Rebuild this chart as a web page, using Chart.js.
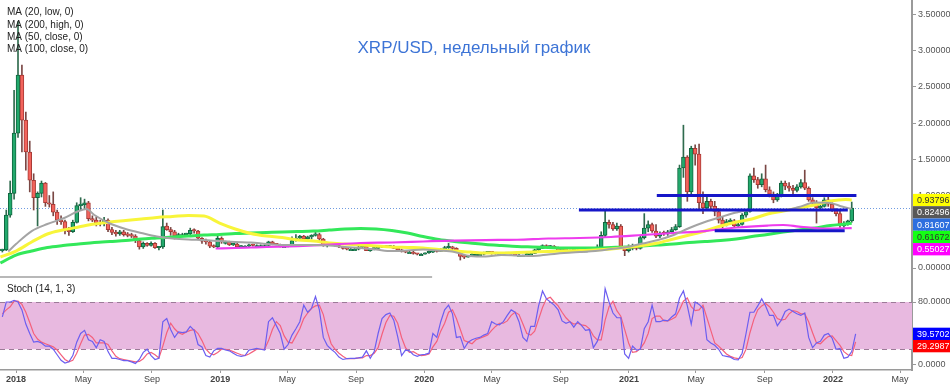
<!DOCTYPE html>
<html>
<head>
<meta charset="utf-8">
<script src="https://cdn.jsdelivr.net/npm/chart.js@4.4.0/dist/chart.umd.min.js"></script>
<style>
  html, body { margin: 0; padding: 0; background: #fff; }
  #wrap { position: relative; width: 950px; height: 386px; overflow: hidden; }
  #price { position: absolute; left: 0; top: 0; }
  #stoch { position: absolute; left: 0; top: 282px; }
</style>
</head>
<body>
<div id="wrap">
  <canvas id="price" width="950" height="282"></canvas>
  <canvas id="stoch" width="950" height="104"></canvas>
</div>
<script>
// XRP/USD weekly — candles + MAs, stochastic pane below
// week index 0 = week of 2018-01-01

// ── data ───────────────────────────────────────────
const CANDLE_START = -3.5;   // week of first candle
const STOCH_START = -3.5;

const opens = [
  0.24,0.25,0.73,1.03,1.86,2.66,2.04,1.60,1.21,0.97,1.03,1.17,0.90,0.88,0.77,0.66,0.64,0.52,0.50,0.63,
  0.86,0.87,0.90,0.68,0.66,0.62,0.61,0.66,0.53,0.49,0.47,0.50,0.46,0.45,0.44,0.38,0.29,0.34,0.31,0.34,
  0.28,0.29,0.58,0.53,0.50,0.44,0.46,0.46,0.47,0.52,0.51,0.41,0.37,0.36,0.30,0.29,0.41,0.36,0.36,0.32,
  0.33,0.29,0.30,0.30,0.32,0.31,0.31,0.31,0.31,0.36,0.33,0.32,0.30,0.30,0.31,0.38,0.41,0.44,0.40,0.43,
  0.45,0.46,0.40,0.32,0.33,0.32,0.31,0.29,0.27,0.26,0.26,0.26,0.29,0.30,0.24,0.26,0.27,0.29,0.30,0.29,
  0.30,0.27,0.25,0.23,0.22,0.22,0.20,0.19,0.19,0.21,0.22,0.24,0.23,0.26,0.28,0.29,0.27,0.23,0.16,0.15,
  0.17,0.19,0.19,0.19,0.21,0.22,0.21,0.20,0.20,0.20,0.21,0.19,0.18,0.18,0.18,0.20,0.20,0.25,0.27,0.31,
  0.29,0.30,0.28,0.24,0.25,0.24,0.24,0.25,0.25,0.24,0.24,0.25,0.26,0.29,0.45,0.63,0.60,0.54,0.58,0.28,
  0.24,0.27,0.29,0.27,0.42,0.55,0.60,0.51,0.44,0.48,0.47,0.50,0.53,0.57,1.38,1.53,1.05,1.65,1.57,0.90,
  0.83,0.92,0.85,0.78,0.66,0.60,0.64,0.65,0.58,0.60,0.73,0.78,1.27,1.22,1.15,1.23,1.08,1.02,0.94,1.00,
  1.17,1.13,1.10,1.07,1.12,1.18,1.10,0.94,0.90,0.83,0.85,0.94,0.88,0.80,0.75,0.60,0.60,0.65
];
const highs = [
  0.26,0.80,1.20,2.45,3.40,2.80,2.15,1.75,1.30,1.05,1.20,1.18,1.00,1.05,0.80,0.72,0.66,0.56,0.66,0.90,
  0.97,0.95,0.92,0.72,0.70,0.66,0.70,0.68,0.56,0.52,0.52,0.52,0.49,0.48,0.46,0.39,0.36,0.35,0.36,0.35,
  0.30,0.80,0.62,0.56,0.52,0.48,0.48,0.48,0.55,0.54,0.52,0.42,0.40,0.37,0.32,0.45,0.43,0.37,0.37,0.34,
  0.34,0.31,0.31,0.33,0.33,0.32,0.32,0.32,0.37,0.37,0.34,0.33,0.31,0.32,0.43,0.46,0.45,0.45,0.44,0.46,
  0.51,0.48,0.41,0.34,0.34,0.33,0.32,0.30,0.28,0.27,0.27,0.30,0.32,0.31,0.26,0.28,0.30,0.31,0.31,0.31,
  0.31,0.28,0.26,0.24,0.23,0.23,0.20,0.20,0.21,0.24,0.24,0.25,0.27,0.30,0.34,0.30,0.28,0.24,0.17,0.17,
  0.20,0.20,0.20,0.22,0.23,0.22,0.21,0.21,0.21,0.21,0.21,0.19,0.19,0.18,0.21,0.21,0.26,0.27,0.32,0.32,
  0.31,0.31,0.29,0.26,0.26,0.25,0.26,0.26,0.26,0.25,0.26,0.27,0.32,0.50,0.80,0.66,0.63,0.62,0.60,0.30,
  0.32,0.33,0.31,0.45,0.75,0.65,0.62,0.60,0.50,0.51,0.52,0.56,0.60,1.42,1.97,1.55,1.68,1.70,1.71,1.05,
  1.00,0.95,0.92,0.82,0.70,0.67,0.68,0.67,0.64,0.75,0.80,1.30,1.38,1.25,1.30,1.42,1.12,1.05,1.03,1.20,
  1.20,1.18,1.14,1.15,1.22,1.35,1.12,0.97,0.93,0.90,0.97,0.98,0.90,0.82,0.80,0.64,0.66,0.91
];
const lows = [
  0.22,0.24,0.70,0.95,1.80,1.60,1.35,1.05,0.80,0.58,0.98,0.85,0.84,0.72,0.60,0.60,0.47,0.45,0.49,0.62,
  0.80,0.82,0.65,0.64,0.58,0.58,0.58,0.50,0.46,0.44,0.45,0.44,0.43,0.42,0.35,0.26,0.27,0.30,0.30,0.27,
  0.25,0.27,0.52,0.45,0.40,0.42,0.44,0.44,0.46,0.48,0.40,0.34,0.33,0.28,0.28,0.28,0.34,0.33,0.31,0.31,
  0.28,0.28,0.29,0.29,0.30,0.30,0.30,0.30,0.31,0.32,0.32,0.29,0.29,0.29,0.30,0.37,0.40,0.39,0.39,0.40,
  0.44,0.38,0.30,0.29,0.31,0.30,0.28,0.26,0.25,0.25,0.25,0.25,0.28,0.24,0.23,0.25,0.27,0.28,0.28,0.28,
  0.27,0.24,0.22,0.21,0.21,0.19,0.18,0.18,0.19,0.20,0.21,0.22,0.23,0.26,0.27,0.25,0.23,0.11,0.13,0.15,
  0.17,0.17,0.18,0.18,0.20,0.19,0.19,0.19,0.19,0.20,0.19,0.18,0.17,0.17,0.17,0.19,0.20,0.24,0.27,0.28,
  0.28,0.27,0.23,0.24,0.22,0.23,0.24,0.24,0.24,0.23,0.23,0.24,0.25,0.28,0.43,0.55,0.52,0.52,0.27,0.17,
  0.22,0.25,0.25,0.26,0.40,0.50,0.49,0.42,0.42,0.45,0.45,0.49,0.52,0.56,1.25,0.92,1.00,1.42,0.82,0.75,
  0.80,0.80,0.72,0.62,0.55,0.58,0.60,0.56,0.56,0.59,0.70,0.77,1.18,1.10,1.12,1.05,0.98,0.90,0.92,0.98,
  1.08,1.06,1.02,1.05,1.10,1.08,0.92,0.86,0.62,0.80,0.84,0.85,0.78,0.72,0.56,0.56,0.59,0.63
];
const closes = [
  0.25,0.73,1.03,1.86,2.66,2.04,1.60,1.21,0.97,1.03,1.17,0.90,0.88,0.77,0.66,0.64,0.52,0.50,0.63,0.86,
  0.87,0.90,0.68,0.66,0.62,0.61,0.66,0.53,0.49,0.47,0.50,0.46,0.45,0.44,0.38,0.29,0.34,0.31,0.34,0.28,
  0.29,0.57,0.53,0.50,0.44,0.46,0.46,0.47,0.52,0.51,0.41,0.37,0.36,0.30,0.29,0.41,0.36,0.36,0.32,0.33,
  0.29,0.30,0.30,0.32,0.31,0.31,0.31,0.31,0.36,0.33,0.32,0.30,0.30,0.31,0.38,0.41,0.44,0.40,0.43,0.45,
  0.46,0.40,0.32,0.33,0.32,0.31,0.29,0.27,0.26,0.26,0.26,0.29,0.30,0.24,0.26,0.27,0.29,0.30,0.29,0.30,
  0.27,0.25,0.23,0.22,0.22,0.20,0.19,0.19,0.21,0.22,0.24,0.23,0.26,0.28,0.29,0.27,0.23,0.16,0.15,0.17,
  0.19,0.19,0.19,0.21,0.22,0.21,0.20,0.20,0.20,0.21,0.19,0.18,0.18,0.18,0.20,0.20,0.25,0.27,0.31,0.29,
  0.30,0.28,0.24,0.25,0.24,0.24,0.25,0.25,0.24,0.24,0.25,0.26,0.29,0.45,0.63,0.60,0.54,0.58,0.28,0.24,
  0.27,0.29,0.27,0.42,0.55,0.60,0.51,0.44,0.48,0.47,0.50,0.53,0.57,1.38,1.53,1.05,1.65,1.57,0.90,0.83,
  0.92,0.85,0.78,0.66,0.60,0.64,0.65,0.58,0.60,0.73,0.78,1.27,1.22,1.15,1.23,1.08,1.02,0.94,1.00,1.17,
  1.13,1.10,1.07,1.12,1.18,1.10,0.94,0.90,0.83,0.85,0.94,0.88,0.80,0.75,0.60,0.60,0.65,0.82496
];

// moving averages (week, value)
const ma20LowWeeks = [-2,0,4,8,12,16,18,20,24,28,32,36,40,44,48,52,56,60,64,68,72,76,80,84,88,92,96,100,
  104,108,112,116,120,124,128,132,136,140,144,148,152,156,160,164,168,172,176,180,184,188,192,196,200,204,208,211,213.5];
const ma20LowValues = [0.228,0.331,0.51,0.607,0.683,0.786,0.814,0.731,0.614,0.538,0.483,0.434,0.407,0.393,0.386,
  0.372,0.359,0.352,0.331,0.317,0.317,0.317,0.31,0.29,0.276,0.255,0.234,0.241,0.255,0.241,0.221,0.166,0.159,0.179,
  0.172,0.166,0.186,0.207,0.221,0.234,0.262,0.29,0.338,0.386,0.455,0.552,0.634,0.703,0.766,0.80,0.793,0.793,0.841,
  0.903,0.897,0.848,0.81607];

const ma200HighWeeks = [51,56,60,64,72,80,88,96,104,112,120,128,136,144,152,160,168,176,184,192,196,200,204,208,213.5];
const ma200HighValues = [0.269,0.276,0.283,0.29,0.303,0.324,0.345,0.352,0.366,0.379,0.386,0.39,0.407,0.414,0.428,
  0.455,0.483,0.51,0.559,0.586,0.593,0.572,0.552,0.545,0.55027];

const ma50Weeks = [-4,0,4,8,12,16,20,24,28,32,36,40,44,48,52,56,60,64,68,72,76,80,84,88,92,96,100,104,108,112,
  116,120,124,128,132,136,140,144,148,152,156,160,164,168,172,176,180,184,188,192,196,200,204,208,212,213.5];
const ma50Values = [0.152,0.234,0.359,0.469,0.524,0.566,0.607,0.634,0.655,0.676,0.697,0.71,0.724,0.717,0.62,0.538,
  0.476,0.441,0.421,0.386,0.372,0.345,0.331,0.317,0.303,0.29,0.283,0.276,0.255,0.234,0.221,0.207,0.207,0.214,0.221,
  0.228,0.234,0.241,0.248,0.262,0.283,0.31,0.345,0.40,0.455,0.51,0.579,0.634,0.676,0.745,0.786,0.828,0.869,0.924,
  0.945,0.93796];

const ma100Weeks = ma50Weeks;
const ma100Values = [0.069,0.179,0.234,0.283,0.31,0.331,0.352,0.366,0.379,0.40,0.414,0.428,0.441,0.455,0.462,0.476,
  0.483,0.49,0.497,0.503,0.51,0.524,0.538,0.545,0.538,0.517,0.483,0.434,0.393,0.366,0.345,0.324,0.31,0.297,0.29,
  0.283,0.276,0.276,0.276,0.283,0.29,0.303,0.317,0.331,0.352,0.366,0.379,0.40,0.434,0.462,0.497,0.524,0.552,0.586,
  0.607,0.61672];

// support / resistance levels drawn on the chart
const levelValues = [1.0, 0.80, 0.514];
const levelFromWeeks = [163.7, 143.8, 178.5];
const levelToWeeks = [214.7, 212.5, 211.7];

// stochastic %K / %D
const stochK = [
  61,80,80,82,80,70,52,40,29,30,28,24,24,20,13,6,2.5,4,12,29,
  40,44,32,30,22,32,30,17,8.5,8.5,7,5.5,5.5,4,2,7,16,20,12,7,
  8.5,55,59,45,35,42,41,42,49,44,26,23,12,10,18,21,21,19,18,15,
  12,11,12,19,20,21,20,19,55,60,50,40,20,26,38,46,55,76,67,72,
  87,70,35,25,20,16,10,7,8,8.5,8.5,9,10,18,8.5,17,40,59,64,66,
  57,36,12,19,18,13,11,13,13.5,15,40,35,55,70,76,65,35,36,21,29,
  32,34,35,38,40,55,52,51,55,63,70,67,55,35,30,49,49,75,94,84,
  80,76,70,56,53,55,48,55,50,44,45,22,30,45,97,80,66,60,60,14,
  8.5,24,19,20,46,55,76,55,55,57,56,61,65,85,94,75,52,80,77,72,
  32,28,25,20,12,11,10,7,6.5,15,40,67,67,75,84,75,63,63,50,57,
  68,71,68,65,63,66,35,22,28,30,38,40,34,20,21,8.5,10,17,39.5702
];
const stochD = [
  65,70,74,81,81,77,67,54,40,33,29,27,25,23,19,13,7,4,6,15,
  27,38,39,35,28,28,28,26,18,11,8,7,6,5,4,4.5,8,14,16,13,
  9,24,41,53,46,41,39,42,44,45,40,31,20,15,13,16,20,20,19,17,
  15,13,12,14,17,20,20,20,31,45,55,50,37,29,28,37,46,59,66,72,
  75,76,64,43,27,20,15,11,8,8,8,9,9,12,12,15,22,39,54,63,
  62,53,35,22,16,17,14,12,12.5,14,23,30,43,53,67,70,59,45,31,29,
  27,32,34,36,38,44,49,53,53,56,63,67,64,52,40,38,43,58,73,84,
  86,80,75,67,60,55,52,53,51,50,46,37,32,32,57,74,81,69,62,45,
  28,16,17,21,28,40,59,62,62,56,56,58,61,70,81,85,74,69,70,76,
  60,44,28,24,19,14,11,9,8,9.5,20,41,58,70,75,78,74,67,59,57,
  58,65,69,68,65,65,55,41,28,27,32,36,37,31,25,17,13,12,29.2987
];
const stochLevels = [20, 80];

// axis ticks
const priceTicks = [0, 0.5, 1, 1.5, 2, 2.5, 3, 3.5];
const stochTicks = [0, 80];
const tickDates = ['2018-01-01','2018-05-01','2018-09-01','2019-01-01','2019-05-01','2019-09-01','2020-01-01',
  '2020-05-01','2020-09-01','2021-01-01','2021-05-01','2021-09-01','2022-01-01','2022-05-01'];
const tickLabels = ['2018','May','Sep','2019','May','Sep','2020','May','Sep','2021','May','Sep','2022','May'];

const TITLE = 'XRP/USD, недельный график';
const STOCH_TITLE = 'Stoch (14, 1, 3)';

// ── setup ──────────────────────────────────────────
const FONT = '"Liberation Sans", Arial, sans-serif';
Chart.defaults.font.family = FONT;

const X_MIN = -4.1, X_MAX = 228.9;
const AXIS_W = 38;
const TAG_H = 12.3;

const weekOf = d => (Date.parse(d) - Date.parse('2018-01-01')) / (7 * 864e5);
const tickWeeks = tickDates.map(weekOf);
const xy = (weeks, values) => values.map((v, i) => ({ x: weeks[i], y: v }));

// no extra room for first/last tick labels — panes fill the canvas
function noPad(s) {
  s.paddingTop = 0; s.paddingBottom = 0; s.paddingLeft = 0; s.paddingRight = 0;
}

const UP = '#22a96c', UP_EDGE = '#11663f';
const DOWN = '#f2635c', DOWN_EDGE = '#a83a35';
const isUp = closes.map((c, i) => c >= opens[i]);

const maSeries = [
  { label: 'MA (20, low, 0)',    weeks: ma20LowWeeks,   values: ma20LowValues,   color: '#a4a4a4', width: 2,   tag: '#2d6fdf', tagText: '#fff' },
  { label: 'MA (200, high, 0)',  weeks: ma200HighWeeks, values: ma200HighValues, color: '#ee3cee', width: 2.2, tag: '#ff00ff', tagText: '#fff' },
  { label: 'MA (50, close, 0)',  weeks: ma50Weeks,      values: ma50Values,      color: '#f8f53a', width: 3,   tag: '#ffff00', tagText: '#333' },
  { label: 'MA (100, close, 0)', weeks: ma100Weeks,     values: ma100Values,     color: '#33e85a', width: 3,   tag: '#14ff14', tagText: '#333' },
];

// tags on the right axis, pushed down so they do not overlap
function drawTags(ctx, scale, tags, left, right) {
  tags.sort((a, b) => b.value - a.value);
  let prev = -Infinity;
  ctx.save();
  ctx.font = '9px ' + FONT;
  ctx.textBaseline = 'middle';
  ctx.textAlign = 'left';
  tags.forEach(t => {
    let y = scale.getPixelForValue(t.value);
    if (y < prev + TAG_H) y = prev + TAG_H;
    prev = y;
    ctx.fillStyle = t.bg;
    ctx.fillRect(left, y - TAG_H / 2, right - left, TAG_H);
    ctx.fillStyle = t.fg;
    ctx.fillText(t.text, left + 4, y + 0.5);
  });
  ctx.restore();
}

// ── price pane ─────────────────────────────────────
const pricePlugin = {
  id: 'priceOverlay',
  beforeDatasetsDraw(chart) {
    const { ctx, chartArea: a, scales: { y } } = chart;
    const py = Math.round(y.getPixelForValue(closes[closes.length - 1])) + 0.5;
    ctx.save();
    ctx.strokeStyle = '#6f9be0';
    ctx.lineWidth = 1;
    ctx.setLineDash([1, 2]);
    ctx.beginPath(); ctx.moveTo(a.left, py); ctx.lineTo(a.right, py); ctx.stroke();
    ctx.restore();
  },
  afterDraw(chart) {
    const { ctx, chartArea: a, scales: { y } } = chart;
    ctx.save();
    ctx.fillStyle = '#3d74d6';
    ctx.font = '17px ' + FONT;
    ctx.textAlign = 'center';
    ctx.textBaseline = 'middle';
    ctx.fillText(TITLE, 474, 48);

    ctx.fillStyle = '#222';
    ctx.font = '10px ' + FONT;
    ctx.textAlign = 'left';
    maSeries.forEach((m, i) => ctx.fillText(m.label, 7, 12.5 + i * 12.3));
    ctx.restore();

    const tags = maSeries.map(m => {
      const v = m.values[m.values.length - 1];
      return { value: v, text: v.toFixed(5), bg: m.tag, fg: m.tagText };
    });
    const last = closes[closes.length - 1];
    tags.push({ value: last + 0.0001, text: last.toFixed(5), bg: '#585858', fg: '#fff' });
    drawTags(ctx, y, tags, a.right + 1, chart.width);
  }
};

const datasets = [];
datasets.push({
  type: 'bar', label: 'wicks', order: 20, grouped: false,
  data: closes.map((c, i) => ({ x: CANDLE_START + i, y: [lows[i], highs[i]] })),
  backgroundColor: isUp.map(u => u ? '#2f6b4e' : '#7a4744'),
  maxBarThickness: 1, barPercentage: 1, categoryPercentage: 1,
});
datasets.push({
  type: 'bar', label: 'bodies', order: 10, grouped: false,
  data: closes.map((c, i) => ({ x: CANDLE_START + i, y: [opens[i], c] })),
  backgroundColor: isUp.map(u => u ? UP : DOWN),
  borderColor: isUp.map(u => u ? UP_EDGE : DOWN_EDGE),
  borderWidth: 1, borderSkipped: false, minBarLength: 1.5,
  barPercentage: 1, categoryPercentage: 1,
});
maSeries.forEach(m => datasets.push({
  type: 'line', label: m.label, order: 2,
  data: xy(m.weeks, m.values),
  borderColor: m.color, borderWidth: m.width,
  pointRadius: 0, cubicInterpolationMode: 'monotone',
}));
levelValues.forEach((v, i) => datasets.push({
  type: 'line', label: 'level ' + v, order: 1,
  data: [{ x: levelFromWeeks[i], y: v }, { x: levelToWeeks[i], y: v }],
  borderColor: '#1616c8', borderWidth: 3, pointRadius: 0,
}));
// short separator under the price pane
datasets.push({
  type: 'line', label: 'separator', order: 1,
  data: [{ x: X_MIN, y: -0.124 }, { x: 106.3, y: -0.124 }],
  borderColor: '#a0a0a0', borderWidth: 1.5, pointRadius: 0,
});

new Chart(document.getElementById('price'), {
  type: 'bar',
  data: { datasets },
  options: {
    responsive: false, animation: false,
    layout: { padding: 0 },
    plugins: { legend: { display: false }, tooltip: { enabled: false } },
    scales: {
      x: { type: 'linear', display: false, min: X_MIN, max: X_MAX, offset: false, grid: { offset: false } },
      y: {
        position: 'right', min: -0.193, max: 3.697,
        afterFit: s => { s.width = AXIS_W; noPad(s); },
        afterBuildTicks: s => { s.ticks = priceTicks.map(v => ({ value: v })); },
        ticks: { callback: v => v.toFixed(5), color: '#555', font: { size: 9 }, padding: 2 },
        grid: { drawOnChartArea: false, tickLength: 4, color: '#999' },
        border: { color: '#9a9a9a', width: 2 },
      }
    }
  },
  plugins: [pricePlugin]
});

// ── stochastic pane ────────────────────────────────
const stochPlugin = {
  id: 'stochOverlay',
  beforeDatasetsDraw(chart) {
    const { ctx, chartArea: a, scales: { y } } = chart;
    const top = y.getPixelForValue(Math.max(...stochLevels));
    const bot = y.getPixelForValue(Math.min(...stochLevels));
    ctx.save();
    ctx.fillStyle = '#e8b9e0';
    ctx.fillRect(a.left, top, a.right - a.left, bot - top);
    ctx.strokeStyle = '#9c7b98';
    ctx.lineWidth = 1;
    ctx.setLineDash([5, 4]);
    stochLevels.forEach(l => {
      const py = Math.round(y.getPixelForValue(l)) + 0.5;
      ctx.beginPath(); ctx.moveTo(a.left, py); ctx.lineTo(a.right, py); ctx.stroke();
    });
    ctx.restore();
  },
  afterDraw(chart) {
    const { ctx, chartArea: a, scales: { y } } = chart;
    ctx.save();
    ctx.fillStyle = '#222';
    ctx.font = '10px ' + FONT;
    ctx.textBaseline = 'middle';
    ctx.fillText(STOCH_TITLE, 7, 7.5);
    ctx.restore();
    const k = stochK[stochK.length - 1], d = stochD[stochD.length - 1];
    drawTags(ctx, y, [
      { value: k, text: k.toFixed(4), bg: '#0000ff', fg: '#fff' },
      { value: d, text: d.toFixed(4), bg: '#ff0000', fg: '#fff' },
    ], a.right + 1, chart.width);
  }
};

new Chart(document.getElementById('stoch'), {
  type: 'line',
  data: {
    datasets: [
      { label: '%K', data: stochK.map((v, i) => ({ x: STOCH_START + i, y: v })),
        borderColor: '#6c5ef0', borderWidth: 1.2, pointRadius: 0 },
      { label: '%D', data: stochD.map((v, i) => ({ x: STOCH_START + i, y: v })),
        borderColor: '#f4607c', borderWidth: 1.2, pointRadius: 0 },
    ]
  },
  options: {
    responsive: false, animation: false,
    layout: { padding: 0 },
    plugins: { legend: { display: false }, tooltip: { enabled: false } },
    scales: {
      x: {
        type: 'linear', min: X_MIN, max: X_MAX,
        afterBuildTicks: s => { s.ticks = tickWeeks.map(w => ({ value: w })); },
        afterFit: s => { s.height = 16; noPad(s); },
        ticks: {
          autoSkip: false, maxRotation: 0, padding: 1, color: '#444',
          callback: (v, i) => tickLabels[i],
          font: ctx => ({ size: 9, weight: /^\d+$/.test(tickLabels[ctx.index] || '') ? 'bold' : 'normal' }),
        },
        grid: { drawOnChartArea: false, tickLength: 3, color: '#999' },
        border: { color: '#9a9a9a', width: 1.5 },
      },
      y: {
        position: 'right', min: -6.35, max: 105.4,
        afterFit: s => { s.width = AXIS_W; noPad(s); },
        afterBuildTicks: s => { s.ticks = stochTicks.map(v => ({ value: v })); },
        ticks: { callback: v => v.toFixed(4), color: '#555', font: { size: 9 }, padding: 2 },
        grid: { drawOnChartArea: false, tickLength: 4, color: '#999' },
        border: { color: '#9a9a9a', width: 2 },
      }
    }
  },
  plugins: [stochPlugin]
});
</script>
</body>
</html>
